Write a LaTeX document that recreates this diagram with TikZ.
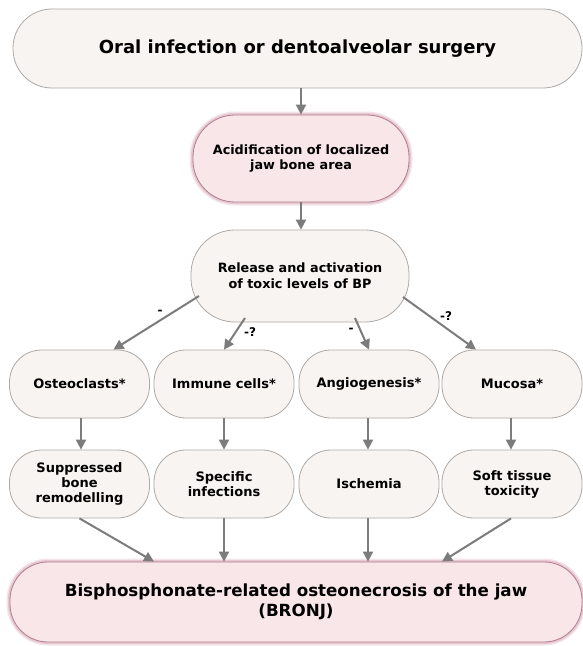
\documentclass[tikz,border=0pt]{standalone}
\usepackage{fontspec}
\setmainfont{DejaVu Sans}
\usetikzlibrary{arrows.meta,calc}
\definecolor{boxfill}{HTML}{F8F4F2}
\definecolor{boxline}{HTML}{ADA9A7}
\definecolor{pinkfill}{HTML}{F8E6E9}
\definecolor{pinkline}{HTML}{B07C8E}
\definecolor{glow}{HTML}{D49AAE}
\definecolor{arr}{HTML}{7C7C7C}
\tikzset{
  box/.style={draw=boxline, fill=boxfill, line width=0.8pt, align=center, inner sep=0pt, font=\bfseries},
  pinkbox/.style={box, draw=pinkline, fill=pinkfill,
    preaction={draw=glow, line width=7pt, opacity=0.25},
    preaction={draw=glow, line width=4pt, opacity=0.4}},
  conn/.style={draw=arr, line width=2pt, -{Triangle[length=10pt,width=10pt]}},
  sign/.style={font=\bfseries\fontsize{12}{14}\selectfont, inner sep=0pt}
}
\begin{document}
\begin{tikzpicture}[x=1pt,y=-1pt]
\useasboundingbox (0,0) rectangle (583,646);
\fill[white] (0,0) rectangle (583,646);
% top
\node[box, minimum width=569pt, minimum height=79pt, rounded corners=39pt, font=\bfseries\fontsize{18}{21}\selectfont] (top) at (297.5,48.5) {Oral infection or dentoalveolar surgery};
\node[pinkbox, minimum width=216pt, minimum height=87pt, rounded corners=42pt, font=\bfseries\fontsize{12.8}{15}\selectfont] (acid) at (301,158.5) {Acidification of localized\\jaw bone area};
\node[box, minimum width=218pt, minimum height=92pt, rounded corners=44pt, font=\bfseries\fontsize{12.8}{16}\selectfont] (rel) at (300,276) {Release and activation\\of toxic levels of BP};
% row 1
\tikzset{rowbox/.style={box, minimum width=140pt, minimum height=68pt, rounded corners=32pt, font=\bfseries\fontsize{13}{15}\selectfont}}
\node[rowbox] (o) at (79.5,384) {Osteoclasts*};
\node[rowbox] (i) at (224,384) {Immune cells*};
\node[rowbox] (a) at (369,384) {Angiogenesis*};
\node[rowbox] (m) at (512,384) {Mucosa*};
% row 2
\node[rowbox] (s1) at (79.5,484) {Suppressed\\bone\\remodelling};
\node[rowbox] (s2) at (224,484) {Specific\\infections};
\node[rowbox] (s3) at (369,484) {Ischemia};
\node[rowbox] (s4) at (512,484) {Soft tissue\\toxicity};
% bottom
\node[pinkbox, minimum width=572pt, minimum height=80pt, rounded corners=38pt, font=\bfseries\fontsize{16.7}{20}\selectfont] (bot) at (296,602) {Bisphosphonate-related osteonecrosis of the jaw\\(BRONJ)};
% connectors
\draw[conn] (acid.north |- top.south) -- (acid.north);
\draw[conn] (acid.south) -- (acid.south |- rel.north);
\coordinate (r1) at ($(rel.center)+(-101,20)$);
\coordinate (r2) at ($(rel.center)+(-55,42)$);
\coordinate (r3) at ($(rel.center)+(55,42)$);
\coordinate (r4) at ($(rel.center)+(103,21)$);
\draw[conn] (r1) -- ([xshift=34pt]o.north);
\draw[conn] (r2) -- (i.north);
\draw[conn] (r3) -- (a.north);
\draw[conn] (r4) -- ([xshift=-36pt]m.north);
\node[sign] (l1) at (160,312) {-};
\node[sign] (l2) at (250,332) {-?};
\node[sign] (l3) at (351,330) {-};
\node[sign] (l4) at (446,316) {-?};
\draw[conn] ([xshift=1.5pt]o.south) -- ([xshift=1.5pt]s1.north);
\draw[conn] (i.south) -- (s2.north);
\draw[conn] ([xshift=-1pt]a.south) -- ([xshift=-1pt]s3.north);
\draw[conn] ([xshift=-1pt]m.south) -- ([xshift=-1pt]s4.north);
\draw[conn] (s1.south) -- ([xshift=-142pt]bot.north);
\draw[conn] (s2.south) -- (s2.south |- bot.north);
\draw[conn] ([xshift=-1pt]s3.south) -- ([xshift=-1pt]s3.south |- bot.north);
\draw[conn] ([xshift=-1pt]s4.south) -- ([xshift=146pt]bot.north);
\end{tikzpicture}
\end{document}
